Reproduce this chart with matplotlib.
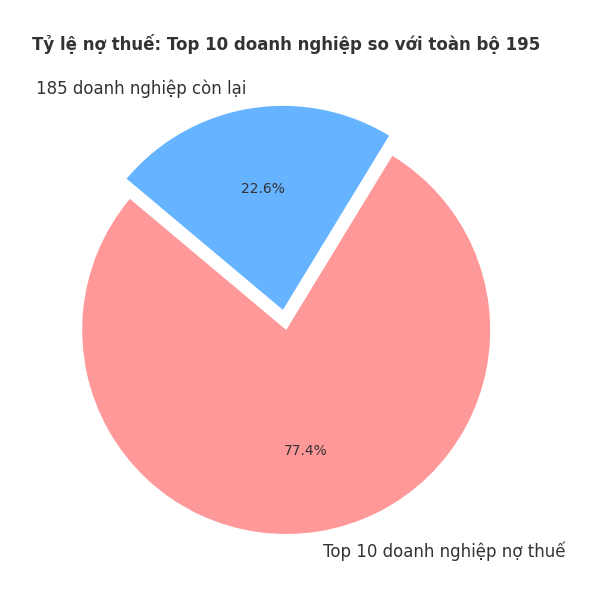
import matplotlib.pyplot as plt

labels = ['Top 10 doanh nghiệp nợ thuế', '185 doanh nghiệp còn lại']
sizes = [77.4, 22.6]
colors = ['#ff9999', '#66b3ff']
explode = [0, 0.1]

fig = plt.figure(figsize=(6, 6), dpi=100)
ax = fig.add_axes([0.052, 0.025, 0.85, 0.85])

wedges, texts, autotexts = ax.pie(sizes, labels=labels, colors=colors,
                                  explode=explode, autopct='%1.1f%%',
                                  startangle=140,
                                  textprops={'color': '#333333'})
for t in texts:
    t.set_fontsize(12)
for t in autotexts:
    t.set_fontsize(10)

ax.set_xlim(-1.25, 1.25)
ax.set_ylim(-1.25, 1.25)
ax.set_title('Tỷ lệ nợ thuế: Top 10 doanh nghiệp so với toàn bộ 195',
             fontsize=12, fontweight='bold', color='#333333', pad=18)

plt.savefig('out.png')
